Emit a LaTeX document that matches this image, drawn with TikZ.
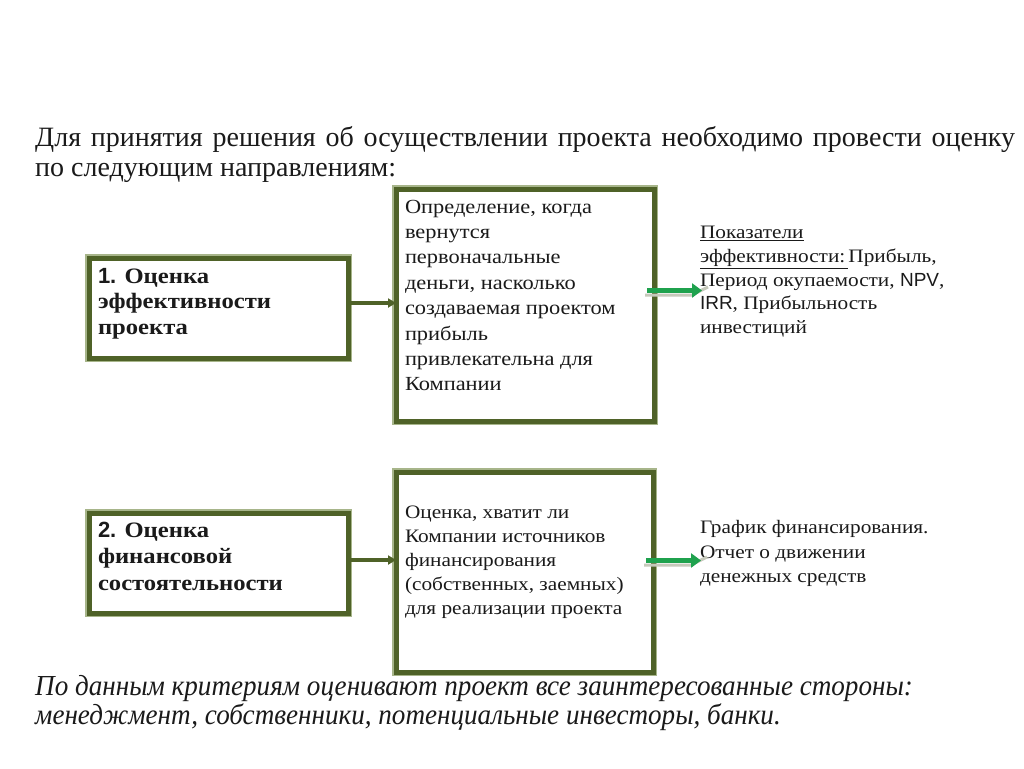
\documentclass[tikz,border=0pt]{standalone}
\usepackage{fontspec}
\setmainfont{Liberation Serif}
\newfontfamily\titlefont{Liberation Serif}
\newfontfamily\footfont[FakeStretch=0.935]{Liberation Serif}
\newfontfamily\boxfont[FakeStretch=1.12]{Liberation Serif}
\newfontfamily\numfont{Liberation Sans}
\usetikzlibrary{arrows.meta}
\definecolor{olivedark}{HTML}{4F6228}
\definecolor{olivelight}{HTML}{A7B58A}
\definecolor{arrowgreen}{HTML}{1FA24E}
\definecolor{shadowgray}{HTML}{C6C9BB}
\definecolor{txt}{HTML}{1A1A1A}
\newcommand\fl[1]{\rule{0pt}{#1}}
\tikzset{
  frame/.style={draw=olivedark, line width=5pt, fill=white, inner sep=0pt, outer sep=0pt},
  lightframe/.style={draw=olivelight, line width=1.8pt},
  txtblock/.style={anchor=north west, inner sep=0pt, outer sep=0pt, align=left, text=txt},
  darrow/.style={draw=olivedark, line width=3.2pt, -{Triangle[length=8pt,width=9pt]}},
  garrow/.style={draw=arrowgreen, line width=5pt, -{Triangle[length=10pt,width=14pt]}},
  gshadow/.style={draw=shadowgray, line width=3pt},
}
\begin{document}
\begin{tikzpicture}[x=1pt,y=-1pt]
\useasboundingbox (0,0) rectangle (1024,768);
\fill[white] (0,0) rectangle (1024,768);

% title
\node[anchor=base west, inner sep=0pt, text=txt, font={\titlefont\fontsize{28}{31}\selectfont}] (t1) at (35,146.5)
  {\makebox[980pt][s]{Для принятия решения об осуществлении проекта необходимо провести оценку}};
\node[anchor=base west, inner sep=0pt, text=txt, font={\titlefont\fontsize{28}{31}\selectfont}] (t2) at (35,176.5)
  {по следующим направлениям:};

% boxes
\node[frame, minimum width=259pt, minimum height=100pt] (b1) at (218.5,308) {};
\node[frame, minimum width=258pt, minimum height=232pt] (b2) at (525,305) {};
\node[frame, minimum width=259pt, minimum height=100pt] (b3) at (218.5,563) {};
\node[frame, minimum width=257pt, minimum height=200pt] (b4) at (524.5,572) {};
\foreach \b in {b1,b2,b3,b4}{
  \draw[lightframe] ([xshift=-3.4pt,yshift=3.4pt]\b.north west) rectangle ([xshift=3.4pt,yshift=-3.4pt]\b.south east);
}

% box texts
\node[txtblock, font={\boxfont\bfseries\fontsize{22}{25.7}\selectfont}] (x1) at (98,263)
  {\fl{20pt}{\numfont\bfseries 1.} Оценка\\ эффективности\\ проекта};
\node[txtblock, font={\boxfont\bfseries\fontsize{22}{26.5}\selectfont}] (x3) at (98,517)
  {\fl{20pt}{\numfont\bfseries 2.} Оценка\\ финансовой\\ состоятельности};
\node[txtblock, font={\boxfont\fontsize{20}{25.4}\selectfont}] (x2) at (405,193)
  {\fl{20pt}Определение, когда\\ вернутся\\ первоначальные\\ деньги, насколько\\ создаваемая проектом\\ прибыль\\ привлекательна для\\ Компании};
\node[txtblock, font={\boxfont\fontsize{19}{24}\selectfont}] (x4) at (405,498.5)
  {\fl{20pt}Оценка, хватит ли\\ Компании источников\\ финансирования\\ (собственных, заемных)\\ для реализации проекта};

% right texts
\node[txtblock, font={\boxfont\fontsize{19}{23.8}\selectfont}] (r1) at (700,218.5)
  {\fl{20pt}\underline{Показатели}\\ \underline{эффективности:\,}Прибыль,\\ Период окупаемости, {\numfont NPV},\\ {\numfont IRR}, Прибыльность\\ инвестиций};
\node[txtblock, font={\boxfont\fontsize{19}{24.5}\selectfont}] (r2) at (700,513.5)
  {\fl{20pt}График финансирования.\\ Отчет о движении\\ денежных средств};

% connectors
\draw[darrow] ([yshift=5pt]b1.east) -- ([yshift=5pt]b1.east -| b2.west);
\draw[darrow] ([yshift=3pt]b3.east) -- ([yshift=3pt]b3.east -| b4.west);

\coordinate (g1e) at (702,290.5);
\coordinate (g2e) at (701,560.5);
\draw[gshadow] ([xshift=-9pt,yshift=10pt]b2.east) -- ++(47,0) -- ++(16,-8);
\draw[garrow] ([xshift=-7pt,yshift=14.5pt]b2.east) -- (g1e);
\draw[gshadow] ([xshift=-9pt,yshift=7pt]b4.east) -- ++(47,0) -- ++(16,-8);
\draw[garrow] ([xshift=-7pt,yshift=11.5pt]b4.east) -- (g2e);

% bottom text
\node[anchor=base west, inner sep=0pt, text=txt, font={\footfont\itshape\fontsize{29}{29}\selectfont}] (f1) at (35,695)
  {По данным критериям оценивают проект все заинтересованные стороны:};
\node[anchor=base west, inner sep=0pt, text=txt, font={\footfont\itshape\fontsize{29}{29}\selectfont}] (f2) at (35,724)
  {менеджмент, собственники, потенциальные инвесторы, банки.};
\end{tikzpicture}
\end{document}
